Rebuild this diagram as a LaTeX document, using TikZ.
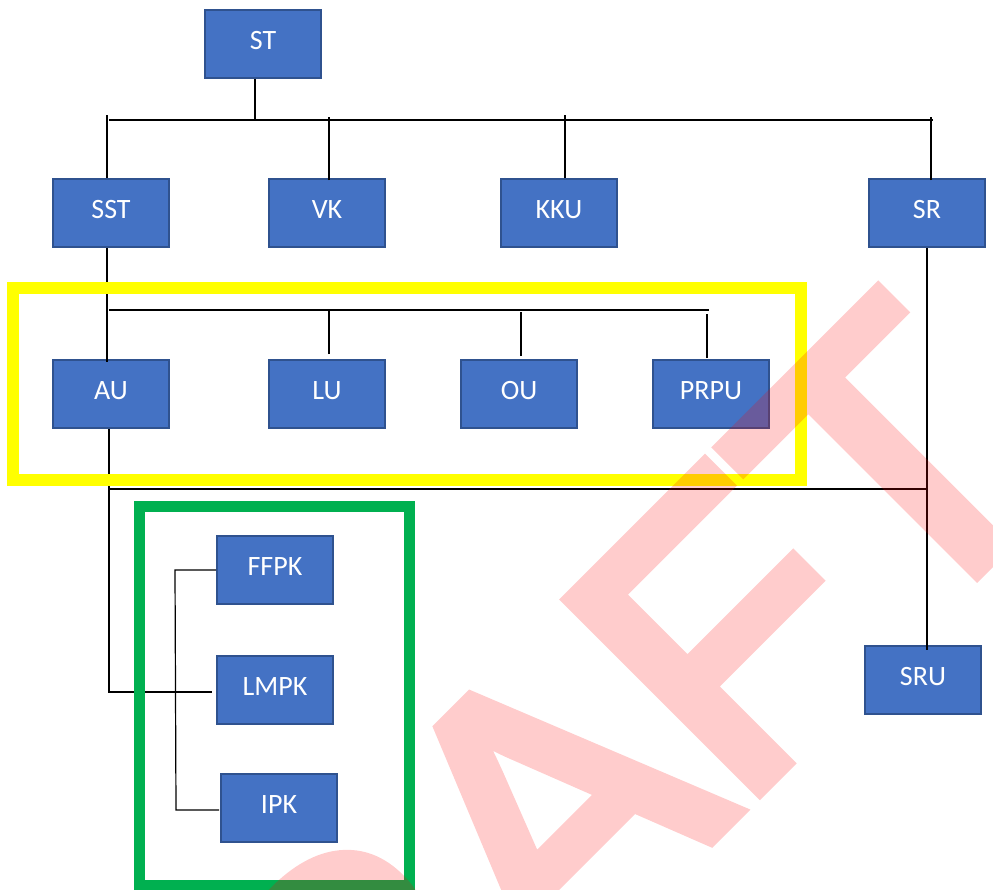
\documentclass[tikz,border=0pt]{standalone}
\usepackage{fontspec}
\newfontfamily\boxfont{Carlito}
\newfontfamily\wmfont[FakeBold=4]{Liberation Sans}
\definecolor{boxfill}{HTML}{4472C4}
\definecolor{boxline}{HTML}{2F528F}
\definecolor{ybox}{HTML}{FFFF00}
\definecolor{gbox}{HTML}{00B050}
\begin{document}
\begin{tikzpicture}[x=1pt,y=1pt,
  unit/.style={draw=boxline, line width=2pt, fill=boxfill, text=white,
    font=\boxfont\fontsize{28}{30}\selectfont, minimum width=116pt,
    minimum height=68pt, inner sep=0pt, text height=18pt, text depth=8pt},
  conn/.style={draw=black, line width=1.2pt}]
\useasboundingbox (0,0) rectangle (993,-889);
% nodes
\node[unit] (ST)   at (263,-44)  {ST};
\node[unit] (SST)  at (111,-213) {SST};
\node[unit] (VK)   at (327,-213) {VK};
\node[unit] (KKU)  at (559,-213) {KKU};
\node[unit] (SR)   at (927,-213) {SR};
\node[unit] (AU)   at (111,-394) {AU};
\node[unit] (LU)   at (327,-394) {LU};
\node[unit] (OU)   at (519,-394) {OU};
\node[unit] (PRPU) at (711,-394) {PRPU};
\node[unit] (FFPK) at (275,-570) {FFPK};
\node[unit] (LMPK) at (275,-690) {LMPK};
\node[unit] (IPK)  at (279,-808) {IPK};
\node[unit] (SRU)  at (923,-680) {SRU};
% bus coordinates
\coordinate (b1l) at (109,-120); \coordinate (b1r) at (933,-120);
\coordinate (b2l) at (109,-310); \coordinate (b2r) at (709,-310);
\coordinate (b3l) at (109,-489); \coordinate (b3r) at (927,-489);
% connectors
\draw[conn] ([xshift=-8pt]ST.south) -- ++(0,-42);
\draw[conn] (b1l) -- (b1r);
\draw[conn] ([xshift=-4pt]SST.north) -- ++(0,63);
\draw[conn] ([xshift=2pt,yshift=-2pt]VK.north) -- ++(0,63);
\draw[conn] ([xshift=6pt]KKU.north) -- ++(0,63);
\draw[conn] ([xshift=4pt,yshift=-2pt]SR.north) -- ++(0,63);
\draw[conn] ([xshift=-4pt]SST.south) -- ([xshift=-4pt,yshift=-3pt]AU.north);
\draw[conn] (b2l) -- (b2r);
\draw[conn] ([xshift=2pt,yshift=5pt]LU.north) -- ++(0,44);
\draw[conn] ([xshift=2pt,yshift=3pt]OU.north) -- ++(0,44);
\draw[conn] ([xshift=-4pt,yshift=1pt]PRPU.north) -- ++(0,44);
\draw[conn] ([xshift=-2pt]AU.south) |- ([xshift=-4pt,yshift=-2pt]LMPK.west);
\draw[conn] (b3l) -- (b3r);
\draw[conn] (SR.south) -- ([xshift=4pt,yshift=-5pt]SRU.north);
\draw[conn] (FFPK.west) -- ++(-41,0) -- ([xshift=-44pt,yshift=-2pt]IPK.west) -- ([xshift=-1pt,yshift=-2pt]IPK.west);
% highlight frames
\draw[draw=ybox, line width=12pt] (13,-288) rectangle (801,-480);
\draw[draw=gbox, line width=11pt] (139,-506) rectangle (409,-885);
% watermark
\begin{scope}
\clip (0,0) rectangle (993,-889);
\begin{scope}[transparency group, opacity=0.2]
\node[rotate=45, anchor=base west, inner sep=0pt, text=red,
  font=\wmfont\fontsize{390}{390}\selectfont] (wm) at (155,-1394) {DRAFT};
\end{scope}
\end{scope}
\end{tikzpicture}
\end{document}
